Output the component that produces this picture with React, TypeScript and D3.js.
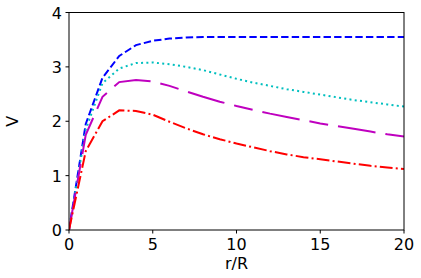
import React from "react";
import * as d3 from "d3";

const radii = [0, 1, 2, 3, 4, 5, 6, 7, 8, 9, 10, 11, 12, 13, 14, 15, 16, 17, 18, 19, 20];
const blueV = [0, 1.95, 2.8, 3.2, 3.4, 3.48, 3.52, 3.54, 3.55, 3.55, 3.55, 3.55, 3.55, 3.55, 3.55, 3.55, 3.55, 3.55, 3.55, 3.55, 3.55];
const cyanV = [0, 1.85, 2.7, 2.97, 3.07, 3.08, 3.05, 3.0, 2.94, 2.86, 2.78, 2.71, 2.65, 2.59, 2.54, 2.49, 2.44, 2.39, 2.35, 2.31, 2.27];
const magentaV = [0, 1.75, 2.45, 2.72, 2.76, 2.73, 2.65, 2.55, 2.45, 2.36, 2.28, 2.21, 2.14, 2.08, 2.02, 1.96, 1.91, 1.86, 1.81, 1.76, 1.72];
const redV = [0, 1.45, 2.0, 2.2, 2.19, 2.12, 1.99, 1.87, 1.76, 1.67, 1.59, 1.52, 1.45, 1.39, 1.34, 1.3, 1.26, 1.22, 1.18, 1.15, 1.12];
const xTicks = [0, 5, 10, 15, 20];
const yTicks = [0, 1, 2, 3, 4];

const series = [
  { values: blueV, color: "#0000ff", dash: "7.4,3.2" },
  { values: cyanV, color: "#00bfbf", dash: "2,3.3" },
  { values: magentaV, color: "#bf00bf", dash: "38,10,19,10" },
  { values: redV, color: "#ff0000", dash: "12.8,3.2,2,3.2" },
];

export default function App() {
  const W = 421, H = 278;
  const left = 69, right = 404, top = 12.5, bottom = 230;
  const x = d3.scaleLinear().domain([0, 20]).range([left, right]);
  const y = d3.scaleLinear().domain([0, 4]).range([bottom, top]);
  const font = "DejaVu Sans, sans-serif";
  return (
    <svg width={W} height={H} style={{ position: "absolute", left: 0, top: 0, background: "#fff" }}>
      <defs>
        <clipPath id="plot">
          <rect x={left} y={top} width={right - left} height={bottom - top} />
        </clipPath>
      </defs>
      <g clipPath="url(#plot)">
        {series.map((s, i) => {
          const line = d3
            .line<number>()
            .x((_, j) => x(radii[j]))
            .y((d) => y(d));
          return (
            <path
              key={i}
              d={line(s.values) || ""}
              fill="none"
              stroke={s.color}
              strokeWidth={2}
              strokeDasharray={s.dash}
            />
          );
        })}
      </g>
      <rect x={left} y={top} width={right - left} height={bottom - top} fill="none" stroke="#000" strokeWidth={1} />
      {xTicks.map((t) => (
        <g key={"x" + t}>
          <line x1={x(t)} x2={x(t)} y1={bottom} y2={bottom + 3.5} stroke="#000" />
          <text x={x(t)} y={bottom + 20} textAnchor="middle" fontFamily={font} fontSize={16} fill="#000">
            {t}
          </text>
        </g>
      ))}
      {yTicks.map((t) => (
        <g key={"y" + t}>
          <line x1={left - 3.5} x2={left} y1={y(t)} y2={y(t)} stroke="#000" />
          <text x={left - 7} y={y(t) + 6} textAnchor="end" fontFamily={font} fontSize={16} fill="#000">
            {t}
          </text>
        </g>
      ))}
      <text x={(left + right) / 2} y={269} textAnchor="middle" fontFamily={font} fontSize={16} fill="#000">
        r/R
      </text>
      <text
        transform={`translate(18, ${(top + bottom) / 2}) rotate(-90)`}
        textAnchor="middle"
        fontFamily={font}
        fontSize={16}
        fill="#000"
      >
        V
      </text>
    </svg>
  );
}
